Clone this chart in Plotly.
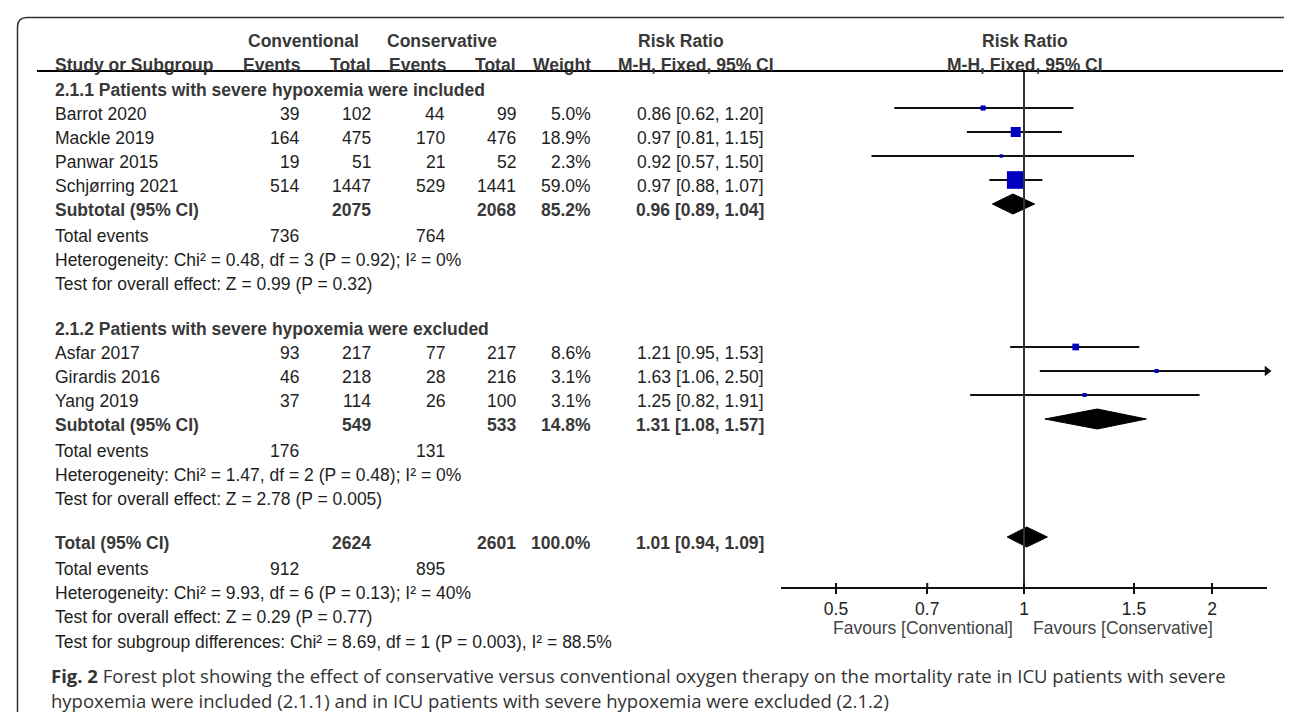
import plotly.graph_objects as go
import math

# ---------------- data ----------------
group1_title = "2.1.1 Patients with severe hypoxemia were included"
group2_title = "2.1.2 Patients with severe hypoxemia were excluded"

studies = ["Barrot 2020", "Mackle 2019", "Panwar 2015", "Schjørring 2021",
           "Asfar 2017", "Girardis 2016", "Yang 2019"]
study_group = [1, 1, 1, 1, 2, 2, 2]
conv_events = [39, 164, 19, 514, 93, 46, 37]
conv_total = [102, 475, 51, 1447, 217, 218, 114]
cons_events = [44, 170, 21, 529, 77, 28, 26]
cons_total = [99, 476, 52, 1441, 217, 216, 100]
weight = [5.0, 18.9, 2.3, 59.0, 8.6, 3.1, 3.1]
rr = [0.86, 0.97, 0.92, 0.97, 1.21, 1.63, 1.25]
rr_lo = [0.62, 0.81, 0.57, 0.88, 0.95, 1.06, 0.82]
rr_hi = [1.20, 1.15, 1.50, 1.07, 1.53, 2.50, 1.91]

sum_labels = ["Subtotal (95% CI)", "Subtotal (95% CI)", "Total (95% CI)"]
sum_conv_total = [2075, 549, 2624]
sum_cons_total = [2068, 533, 2601]
sum_weight = [85.2, 14.8, 100.0]
sum_rr = [0.96, 1.31, 1.01]
sum_lo = [0.89, 1.08, 0.94]
sum_hi = [1.04, 1.57, 1.09]
sum_conv_events = [736, 176, 912]
sum_cons_events = [764, 131, 895]
heterogeneity = ["Heterogeneity: Chi² = 0.48, df = 3 (P = 0.92); I² = 0%",
                 "Heterogeneity: Chi² = 1.47, df = 2 (P = 0.48); I² = 0%",
                 "Heterogeneity: Chi² = 9.93, df = 6 (P = 0.13); I² = 40%"]
overall_effect = ["Test for overall effect: Z = 0.99 (P = 0.32)",
                  "Test for overall effect: Z = 2.78 (P = 0.005)",
                  "Test for overall effect: Z = 0.29 (P = 0.77)"]
subgroup_diff = "Test for subgroup differences: Chi² = 8.69, df = 1 (P = 0.003), I² = 88.5%"

tick_vals = [0.5, 0.7, 1, 1.5, 2]
tick_text = ["0.5", "0.7", "1", "1.5", "2"]
favours_left = "Favours [Conventional]"
favours_right = "Favours [Conservative]"

caption_bold = "Fig. 2"
caption_1 = (" Forest plot showing the effect of conservative versus conventional oxygen therapy "
             "on the mortality rate in ICU patients with severe")
caption_2 = "hypoxemia were included (2.1.1) and in ICU patients with severe hypoxemia were excluded (2.1.2)"

# ---------------- layout constants ----------------
W, H = 1292, 712
FONT = "Liberation Sans, Arial, sans-serif"
FS = 17.5
BODY = "#1e1e1e"
HEAD = "#383838"
SQ = "#0000c0"

COL_LABEL = 45
COL_CE, COL_CT, COL_XE, COL_XT, COL_W, COL_CI = 293, 365, 439, 510, 585, 758
AX_LEFT, AX_RIGHT, AX_Y = 773, 1259, 580
HDR_LINE_Y = 63
PITCH = 24
FOREST_OFF = 6
XMIN_LOG, XMAX_LOG = -0.389, 0.389

fig = go.Figure()
ann = []


def txt(s, x, y, anchor="left", bold=False, color=BODY, size=FS, family=FONT):
    ann.append(dict(text=("<b>%s</b>" % s) if bold else s, x=x, y=y, xref="x", yref="y",
                    xanchor=anchor, yanchor="middle", showarrow=False,
                    font=dict(family=family, size=size, color=color)))


# header
txt("Conventional", 238, 33, "left", True, HEAD)
txt("Conservative", 377, 33, "left", True, HEAD)
txt("Risk Ratio", 673, 33, "center", True, HEAD)
txt("Risk Ratio", 1017, 33, "center", True, HEAD)
txt("Study or Subgroup", COL_LABEL, 57, "left", True, HEAD)
txt("Events", 295, 57, "right", True, HEAD)
txt("Total", COL_CT, 57, "right", True, HEAD)
txt("Events", 441, 57, "right", True, HEAD)
txt("Total", COL_XT, 57, "right", True, HEAD)
txt("Weight", COL_W, 57, "right", True, HEAD)
txt("M-H, Fixed, 95% CI", 688, 57, "center", True, HEAD)
txt("M-H, Fixed, 95% CI", 1017, 57, "center", True, HEAD)


def forest_row(lo, est, hi, y, w):
    xmax = 10 ** XMAX_LOG
    fig.add_trace(go.Scatter(x=[lo, hi], y=[y, y], mode="lines", xaxis="x2", yaxis="y",
                             line=dict(color="#111111", width=2), showlegend=False,
                             hoverinfo="skip"))
    if hi > xmax:
        fig.add_trace(go.Scatter(x=[xmax], y=[y], mode="markers", xaxis="x2", yaxis="y",
                                 marker=dict(symbol="triangle-right", size=9, color="#111111"),
                                 cliponaxis=False, showlegend=False, hoverinfo="skip"))
    size = max(3.0, 2.3 * math.sqrt(w))
    fig.add_trace(go.Scatter(x=[est], y=[y], mode="markers", xaxis="x2", yaxis="y",
                             marker=dict(symbol="square", size=size, color=SQ, line=dict(width=0)),
                             showlegend=False, hoverinfo="skip"))


def diamond(lo, est, hi, y):
    fig.add_trace(go.Scatter(x=[lo, est, hi, est, lo], y=[y, y - 10, y, y + 10, y],
                             mode="lines", fill="toself", fillcolor="#000000",
                             line=dict(color="#000000", width=1), xaxis="x2", yaxis="y",
                             showlegend=False, hoverinfo="skip"))


def summary_block(k, y):
    txt(sum_labels[k], COL_LABEL, y, "left", True, HEAD)
    txt("%d" % sum_conv_total[k], COL_CT, y, "right", True, HEAD)
    txt("%d" % sum_cons_total[k], COL_XT, y, "right", True, HEAD)
    txt("%.1f%%" % sum_weight[k], COL_W, y, "right", True, HEAD)
    txt("%.2f [%.2f, %.2f]" % (sum_rr[k], sum_lo[k], sum_hi[k]), COL_CI, y, "right", True, HEAD)
    diamond(sum_lo[k], sum_rr[k], sum_hi[k], y - FOREST_OFF)
    y += PITCH + 2
    txt("Total events", COL_LABEL, y)
    txt("%d" % sum_conv_events[k], COL_CE, y, "right")
    txt("%d" % sum_cons_events[k], COL_XE, y, "right")
    y += PITCH
    txt(heterogeneity[k], COL_LABEL, y)
    y += PITCH
    txt(overall_effect[k], COL_LABEL, y)
    return y


y = 82
for g, title in ((1, group1_title), (2, group2_title)):
    txt(title, COL_LABEL, y, "left", True, HEAD)
    for i, s in enumerate(studies):
        if study_group[i] != g:
            continue
        y += PITCH
        txt(s, COL_LABEL, y)
        txt("%d" % conv_events[i], COL_CE, y, "right")
        txt("%d" % conv_total[i], COL_CT, y, "right")
        txt("%d" % cons_events[i], COL_XE, y, "right")
        txt("%d" % cons_total[i], COL_XT, y, "right")
        txt("%.1f%%" % weight[i], COL_W, y, "right")
        txt("%.2f [%.2f, %.2f]" % (rr[i], rr_lo[i], rr_hi[i]), COL_CI, y, "right")
        forest_row(rr_lo[i], rr[i], rr_hi[i], y - FOREST_OFF, weight[i])
    y += PITCH
    y = summary_block(g - 1, y)
    y += 45

y -= 1
y = summary_block(2, y)
y += PITCH + 1
txt(subgroup_diff, COL_LABEL, y)

# line of no effect
fig.add_trace(go.Scatter(x=[1, 1], y=[HDR_LINE_Y, AX_Y], mode="lines", xaxis="x2", yaxis="y",
                         line=dict(color="#333333", width=2), showlegend=False, hoverinfo="skip"))
# upper halves of the ticks (axis draws the lower halves)
tx, ty = [], []
for v in tick_vals:
    tx += [v, v, None]
    ty += [AX_Y - 5, AX_Y, None]
fig.add_trace(go.Scatter(x=tx, y=ty, mode="lines", xaxis="x2", yaxis="y",
                         line=dict(color="#111111", width=2), showlegend=False, hoverinfo="skip"))

# favours labels
txt(favours_left, 915, 620, "center", False, "#444444")
txt(favours_right, 1115, 620, "center", False, "#444444")

# caption
CAP_FONT = "Open Sans, Noto Sans, sans-serif"
txt("<b>%s</b>%s" % (caption_bold, caption_1), 41, 667, "left", False, "#333333", 18.5, CAP_FONT)
txt(caption_2, 41, 692, "left", False, "#333333", 18.5, CAP_FONT)

shapes = [
    dict(type="line", xref="x", yref="y", x0=29, x1=1275, y0=HDR_LINE_Y, y1=HDR_LINE_Y,
         line=dict(color="#000000", width=2)),
    dict(type="path", xref="x", yref="y",
         path="M 9.5,712 L 9.5,19 Q 9.5,9.5 19,9.5 L 1282,9.5 Q 1291,9.5 1291,19 L 1291,712",
         line=dict(color="#333333", width=1.5)),
]

fig.update_layout(
    width=W, height=H, autosize=False,
    margin=dict(l=0, r=0, t=0, b=0),
    paper_bgcolor="white", plot_bgcolor="white",
    showlegend=False,
    xaxis=dict(range=[0, W], visible=False, domain=[0, 1], fixedrange=True),
    yaxis=dict(range=[H, 0], visible=False, domain=[0, 1], fixedrange=True),
    xaxis2=dict(type="log", range=[XMIN_LOG, XMAX_LOG],
                domain=[AX_LEFT / W, AX_RIGHT / W], anchor="free", position=1 - AX_Y / H,
                showline=True, linecolor="#111111", linewidth=2,
                ticks="outside", ticklen=5, tickwidth=2, tickcolor="#111111",
                tickmode="array", tickvals=tick_vals, ticktext=tick_text,
                tickfont=dict(family=FONT, size=FS, color="#222222"),
                showgrid=False, zeroline=False, fixedrange=True),
    annotations=ann,
    shapes=shapes,
)

fig.write_html("out.html")
